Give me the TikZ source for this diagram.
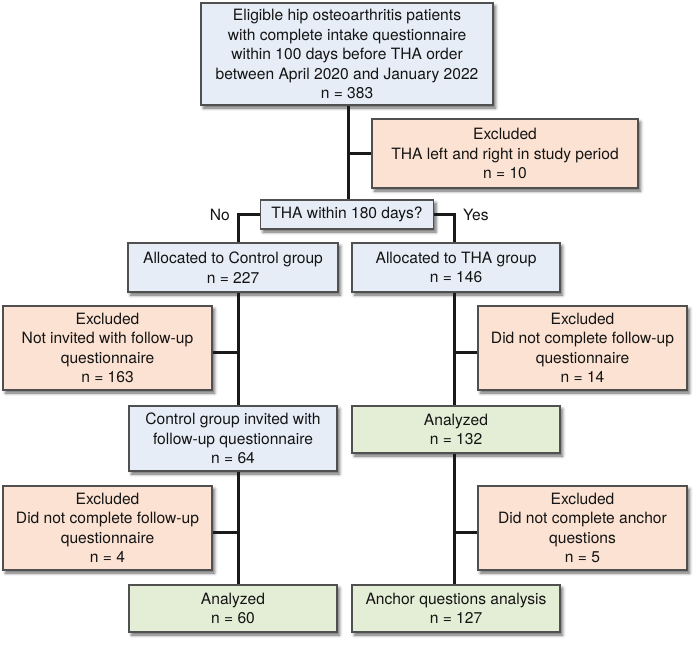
\documentclass[tikz,border=0pt]{standalone}
\usepackage{fontspec}
\setmainfont{TeX Gyre Heros}
\usetikzlibrary{shadows.blur,calc}
\definecolor{bluefill}{RGB}{230,237,247}
\definecolor{peachfill}{RGB}{252,226,210}
\definecolor{greenfill}{RGB}{228,238,214}
\definecolor{boxline}{RGB}{80,80,80}
\definecolor{txt}{RGB}{20,20,20}
\tikzset{
  box/.style={draw=boxline, line width=1.1pt, rectangle, align=center, inner sep=0pt,
    text=txt, font=\fontsize{15.6}{19.5}\selectfont,
    blur shadow={shadow xshift=2.5pt, shadow yshift=-3pt, shadow blur radius=3pt, shadow opacity=60}},
  bluebox/.style={box, fill=bluefill},
  peachbox/.style={box, fill=peachfill},
  greenbox/.style={box, fill=greenfill},
  conn/.style={line width=3pt, draw=black!90},
  lbl/.style={font=\fontsize{15.6}{19.5}\selectfont, text=txt, inner sep=0pt}
}
\begin{document}
\begin{tikzpicture}[x=1pt,y=-1pt]
\useasboundingbox (0,0) rectangle (700,646);
% nodes
\node[bluebox, minimum width=292, minimum height=102] (top) at (347,54)
  {Eligible hip osteoarthritis patients\\with complete intake questionnaire\\within 100 days before THA order\\between April 2020 and January 2022\\n = 383};
\node[peachbox, minimum width=266, minimum height=69] (ex1) at (505,153.5)
  {Excluded\\THA left and right in study period\\n = 10};
\node[bluebox, minimum width=173, minimum height=29] (dec) at (347,214.5)
  {THA within 180 days?};
\node[bluebox, minimum width=210, minimum height=49] (ctrl) at (233,267.5)
  {Allocated to Control group\\n = 227};
\node[bluebox, minimum width=208, minimum height=49] (tha) at (456,267.5)
  {Allocated to THA group\\n = 146};
\node[peachbox, minimum width=209, minimum height=84] (ex2) at (107.5,348)
  {Excluded\\Not invited with follow-up\\questionnaire\\n = 163};
\node[peachbox, minimum width=209, minimum height=84] (ex3) at (582.5,348)
  {Excluded\\Did not complete follow-up\\questionnaire\\n = 14};
\node[bluebox, minimum width=208, minimum height=65] (inv) at (233,438.5)
  {Control group invited with\\follow-up questionnaire\\n = 64};
\node[greenbox, minimum width=208, minimum height=47] (an1) at (456,429.5)
  {Analyzed\\n = 132};
\node[peachbox, minimum width=209, minimum height=84] (ex4) at (107.5,528)
  {Excluded\\Did not complete follow-up\\questionnaire\\n = 4};
\node[peachbox, minimum width=209, minimum height=84] (ex5) at (582.5,528)
  {Excluded\\Did not complete anchor\\questions\\n = 5};
\node[greenbox, minimum width=208, minimum height=47] (an2) at (233,608.5)
  {Analyzed\\n = 60};
\node[greenbox, minimum width=208, minimum height=47] (anc) at (456,608.5)
  {Anchor questions analysis\\n = 127};
\node[lbl, anchor=east] (no) at (230,214.5) {No};
\node[lbl, anchor=west] (yes) at (463,214.5) {Yes};
% column coordinates
\coordinate (mainx) at ([xshift=1pt]top.south);
\coordinate (leftx) at ([xshift=5pt]ctrl.north);
\coordinate (rightx) at ([xshift=-2pt]tha.north);
% connectors
\draw[conn] (top.south -| mainx) -- (dec.north -| mainx);
\draw[conn] (ex1.west) -- (ex1.west -| mainx);
\draw[conn] (dec.west) -| (ctrl.north -| leftx);
\draw[conn] (dec.east) -| (tha.north -| rightx);
\draw[conn] (ctrl.south -| leftx) -- (inv.north -| leftx);
\draw[conn] ([yshift=-4pt]ex2.east) -- ([yshift=-4pt]ex2.east -| leftx);
\draw[conn] (inv.south -| leftx) -- (an2.north -| leftx);
\draw[conn] ([yshift=-4pt]ex4.east) -- ([yshift=-4pt]ex4.east -| leftx);
\draw[conn] (tha.south -| rightx) -- (an1.north -| rightx);
\draw[conn] ([yshift=-4pt]ex3.west) -- ([yshift=-4pt]ex3.west -| rightx);
\draw[conn] (an1.south -| rightx) -- (anc.north -| rightx);
\draw[conn] ([yshift=-4pt]ex5.west) -- ([yshift=-4pt]ex5.west -| rightx);
\end{tikzpicture}
\end{document}
